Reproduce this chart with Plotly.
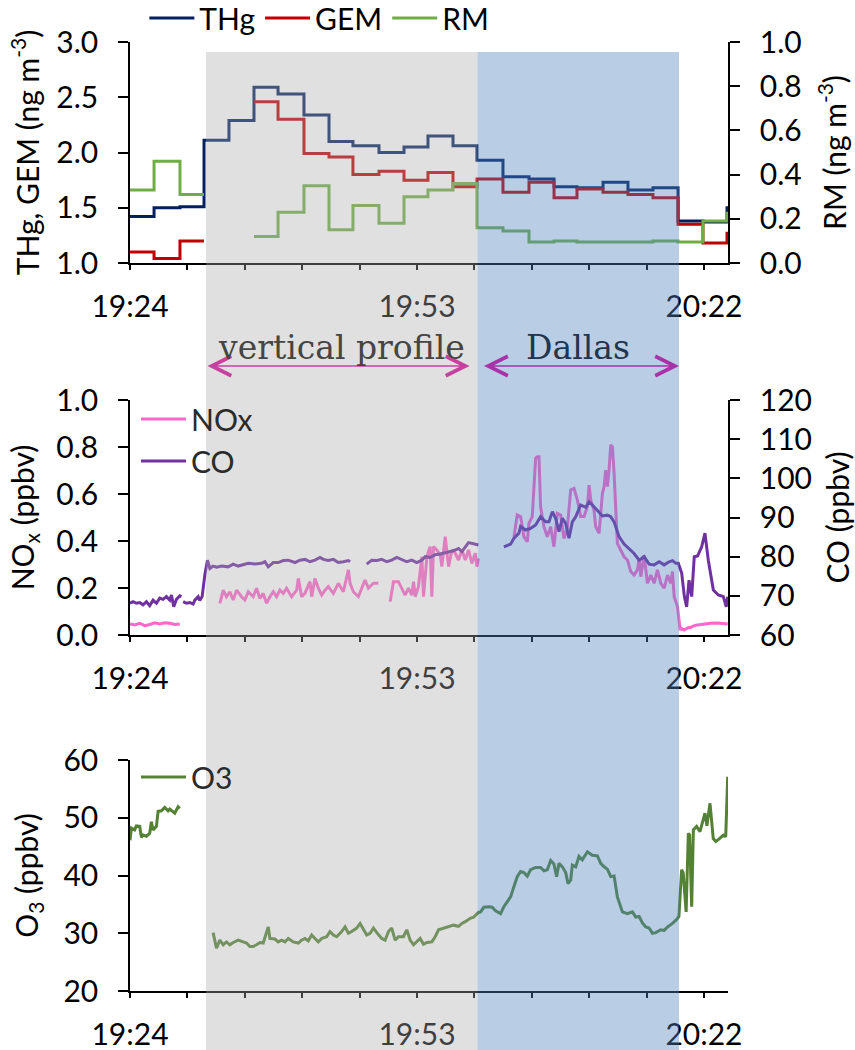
import plotly.graph_objects as go

# ------------------------------------------------------------------
# Time axis: minutes after 19:24
# ------------------------------------------------------------------
x_end = 60.43
tick_minutes = [0, 5.8, 11.6, 17.4, 23.2, 29.0, 34.8, 40.6, 46.4, 52.2, 58.0]
label_minutes = [0, 29.0, 58.0]
label_text = ["19:24", "19:53", "20:22"]

# flight legs
profile_start = 7.68
profile_end = 35.12
dallas_start = 35.12
dallas_end = 55.48

# ------------------------------------------------------------------
# Mercury: ~2.5-min sampling intervals (start of each interval)
# ------------------------------------------------------------------
hg_start = [0.0, 2.43, 5.05, 7.48, 10.0, 12.53, 14.96, 17.58, 20.11, 22.53,
            25.16, 27.69, 30.11, 32.64, 35.06, 37.69, 40.32, 42.85, 45.17,
            47.8, 50.32, 52.85, 55.38, 57.9, 60.33]
thg = [1.42, 1.50, 1.51, 2.11, 2.29, 2.59, 2.53, 2.34, 2.10, 2.06, 2.00, 2.05,
       2.15, 2.06, 1.93, 1.78, 1.76, 1.69, 1.68, 1.73, 1.66, 1.68, 1.38, 1.37,
       1.50]
gem = [1.10, 1.04, 1.20, None, None, 2.46, 2.30, 1.99, 1.96, 1.80, 1.83, 1.75,
       1.82, 1.69, 1.76, 1.64, 1.73, 1.59, 1.67, 1.64, 1.62, 1.59, 1.35, 1.18,
       1.27]
rm = [0.33, 0.46, 0.31, None, None, 0.12, 0.23, 0.35, 0.15, 0.26, 0.18, 0.30,
      0.33, 0.36, 0.16, 0.145, 0.095, 0.10, 0.095, 0.095, 0.095, 0.10, 0.095,
      0.19, 0.225]

# ------------------------------------------------------------------
# Fast trace gases: (minute, value); None marks a data gap
# ------------------------------------------------------------------
nox_ppbv = [
    (0.00, 0.047), (0.47, 0.043), (0.98, 0.050), (1.49, 0.040), (1.99, 0.045),
    (2.50, 0.052), (3.01, 0.047), (3.51, 0.052), (4.02, 0.050), (4.52, 0.045),
    (5.03, 0.047), (7.00, None),
    (9.08, 0.135), (9.42, 0.191), (9.75, 0.163), (10.09, 0.184), (10.43, 0.149),
    (10.77, 0.191), (11.27, 0.163), (11.61, 0.149), (11.95, 0.184), (12.45, 0.163),
    (12.79, 0.199), (13.13, 0.156), (13.46, 0.177), (13.80, 0.135), (14.14, 0.163),
    (14.48, 0.184), (14.81, 0.163), (15.15, 0.191), (15.49, 0.177), (15.83, 0.199),
    (16.33, 0.163), (16.84, 0.191), (17.01, 0.241), (17.34, 0.163), (17.68, 0.177),
    (18.19, 0.227), (18.36, 0.163), (18.69, 0.241), (19.03, 0.199), (19.37, 0.170),
    (19.71, 0.191), (20.04, 0.206), (20.55, 0.177), (21.05, 0.220), (21.56, 0.184),
    (22.07, 0.277), (22.24, 0.220), (22.57, 0.184), (23.08, 0.163), (23.42, 0.199),
    (23.75, 0.234), (24.09, 0.199), (24.60, 0.220), (25.10, 0.220), (25.70, None),
    (26.29, 0.142), (26.62, 0.227), (27.13, 0.227), (27.47, 0.199), (27.80, 0.170),
    (28.14, 0.199), (28.48, 0.170), (28.65, 0.227), (28.82, 0.163), (29.15, 0.206),
    (29.49, 0.333), (29.66, 0.163), (30.00, 0.333), (30.33, 0.376), (30.50, 0.163),
    (30.67, 0.376), (31.01, 0.362), (31.35, 0.340), (31.51, 0.291), (31.85, 0.418),
    (32.19, 0.291), (32.53, 0.362), (32.86, 0.348), (33.20, 0.319), (33.54, 0.362),
    (33.88, 0.319), (34.21, 0.362), (34.55, 0.305), (34.89, 0.348), (35.05, 0.291),
    (35.20, 0.326), (37.00, None),
    (38.80, 0.418), (39.13, 0.511), (39.47, 0.504), (39.81, 0.418), (40.15, 0.397),
    (40.31, 0.475), (40.65, 0.504), (40.99, 0.752), (41.16, 0.759), (41.33, 0.759),
    (41.49, 0.546), (41.83, 0.461), (42.17, 0.418), (42.51, 0.461), (42.84, 0.376),
    (43.18, 0.518), (43.52, 0.511), (43.86, 0.411), (44.19, 0.454), (44.53, 0.617),
    (44.87, 0.624), (45.21, 0.574), (45.54, 0.504), (45.88, 0.504), (46.22, 0.546),
    (46.39, 0.638), (46.56, 0.574), (46.89, 0.532), (47.06, 0.461), (47.40, 0.433),
    (47.74, 0.603), (47.91, 0.631), (48.07, 0.702), (48.24, 0.631), (48.41, 0.702),
    (48.58, 0.809), (48.75, 0.801), (48.92, 0.688), (49.25, 0.390), (49.59, 0.362),
    (49.93, 0.333), (50.27, 0.319), (50.60, 0.270), (50.94, 0.255), (51.28, 0.277),
    (51.45, 0.326), (51.62, 0.248), (51.95, 0.340), (52.29, 0.220), (52.63, 0.255),
    (52.97, 0.220), (53.30, 0.277), (53.64, 0.220), (53.98, 0.199), (54.32, 0.255),
    (54.65, 0.220), (54.82, 0.270), (54.99, 0.163), (55.33, 0.120), (55.60, 0.021),
    (55.73, 0.028), (56.00, 0.021), (56.34, 0.030), (56.68, 0.033), (57.01, 0.040),
    (57.35, 0.043), (58.03, 0.047), (58.70, 0.050), (59.38, 0.051), (60.05, 0.047),
    (60.40, 0.047),
]

co_ppbv = [
    (0.00, 68.1), (0.31, 68.5), (0.64, 68.1), (0.98, 68.3), (1.32, 67.7),
    (1.66, 68.5), (1.99, 67.5), (2.33, 68.9), (2.67, 68.1), (3.01, 69.4),
    (3.34, 69.1), (3.68, 69.8), (4.02, 68.9), (4.19, 70.2), (4.42, 67.2),
    (4.69, 69.1), (5.03, 70.0), (5.20, 69.8), (5.28, None),
    (5.37, 68.5), (5.70, 68.1), (6.04, 68.3), (6.38, 67.9), (6.55, 68.9),
    (6.89, 69.8), (7.05, 68.8), (7.29, 69.8), (7.56, 75.3), (7.83, 79.1),
    (8.07, 77.0), (8.40, 77.6), (8.74, 77.3), (9.25, 77.6), (9.92, 77.4),
    (10.43, 78.1), (10.93, 77.6), (11.44, 78.0), (11.95, 78.3), (12.62, 78.1),
    (13.30, 78.3), (13.63, 78.7), (13.97, 77.4), (14.48, 78.5), (14.98, 78.5),
    (15.49, 79.0), (15.99, 79.1), (16.67, 78.5), (17.17, 79.1), (17.68, 79.3),
    (18.19, 78.7), (18.69, 79.1), (19.20, 79.8), (19.54, 79.3), (20.04, 79.0),
    (20.55, 79.3), (21.05, 78.5), (21.56, 78.7), (22.07, 79.0), (22.24, 78.7),
    (23.00, None),
    (23.92, 78.1), (24.43, 79.1), (24.94, 79.0), (25.44, 79.3), (25.95, 78.7),
    (26.45, 79.1), (26.96, 79.8), (27.47, 79.3), (27.97, 78.7), (28.48, 79.1),
    (28.98, 78.5), (29.49, 79.1), (29.83, 80.0), (30.33, 79.8), (30.84, 80.5),
    (31.35, 80.7), (31.85, 80.9), (32.36, 81.3), (32.86, 81.7), (33.20, 82.1),
    (33.54, 81.3), (33.88, 82.6), (34.21, 83.6), (34.72, 83.3), (35.20, 83.0),
    (36.50, None),
    (37.78, 82.5), (38.46, 83.2), (38.80, 84.7), (39.30, 86.0), (39.47, 87.7),
    (39.98, 86.8), (40.48, 87.2), (40.99, 88.1), (41.49, 90.2), (42.00, 88.9),
    (42.34, 88.9), (42.68, 91.5), (43.01, 89.8), (43.35, 86.4), (43.69, 89.8),
    (44.03, 88.5), (44.36, 84.7), (44.70, 88.9), (45.04, 90.2), (45.54, 93.2),
    (46.05, 92.6), (46.39, 94.0), (46.72, 93.2), (47.23, 91.9), (47.74, 90.4),
    (48.24, 90.6), (48.58, 90.2), (48.92, 88.9), (49.42, 85.1), (49.93, 83.2),
    (50.44, 82.1), (50.94, 80.8), (51.45, 79.1), (51.95, 80.0), (52.46, 78.1),
    (52.97, 77.9), (53.47, 78.7), (53.98, 77.9), (54.48, 78.7), (54.82, 79.0),
    (55.16, 78.3), (55.41, 78.3), (55.75, 75.8), (56.02, 69.8), (56.25, 67.2),
    (56.49, 74.0), (56.76, 69.8), (57.02, 80.0), (57.36, 80.2), (57.77, 82.5),
    (58.10, 86.0), (58.44, 79.1), (58.95, 71.5), (59.45, 70.2), (59.96, 69.8),
    (60.25, 67.2), (60.40, 69.8),
]

o3_ppbv = [
    (0.00, 46.1), (0.14, 48.2), (0.47, 47.9), (0.64, 48.6), (0.98, 48.5),
    (1.15, 46.6), (1.32, 47.0), (1.66, 46.8), (1.99, 47.3), (2.16, 49.3),
    (2.33, 47.9), (2.67, 48.5), (2.84, 51.1), (3.17, 51.2), (3.51, 51.8),
    (3.85, 51.2), (4.02, 51.5), (4.35, 51.1), (4.52, 50.8), (4.86, 51.9),
    (5.03, 51.6), (6.50, None),
    (8.40, 30.1), (8.74, 27.4), (9.08, 28.8), (9.42, 28.0), (9.75, 28.5),
    (10.09, 28.0), (10.43, 28.4), (10.93, 28.8), (11.44, 28.5), (11.78, 28.3),
    (12.11, 27.7), (12.45, 27.7), (12.79, 28.0), (13.13, 28.4), (13.46, 28.3),
    (13.63, 29.4), (13.97, 31.1), (14.14, 29.1), (14.64, 29.0), (14.98, 28.5),
    (15.32, 28.8), (15.66, 28.5), (15.99, 29.1), (16.50, 28.5), (17.01, 28.3),
    (17.34, 28.8), (17.68, 29.1), (18.02, 28.7), (18.36, 29.7), (18.69, 29.1),
    (19.03, 28.5), (19.37, 29.1), (19.87, 29.4), (20.21, 30.3), (20.55, 29.7),
    (20.89, 29.4), (21.39, 30.3), (21.73, 31.1), (22.07, 30.0), (22.40, 30.3),
    (22.91, 30.9), (23.25, 31.7), (23.59, 30.6), (23.92, 29.7), (24.26, 30.0),
    (24.60, 30.9), (24.94, 30.1), (25.44, 29.1), (25.78, 28.8), (26.12, 30.3),
    (26.45, 30.9), (26.79, 28.8), (27.13, 29.4), (27.63, 29.4), (27.97, 30.6),
    (28.31, 28.8), (28.65, 28.0), (28.98, 28.5), (29.32, 29.1), (29.66, 28.1),
    (30.00, 28.4), (30.50, 28.5), (30.84, 29.4), (31.18, 30.6), (31.68, 30.9),
    (32.19, 31.1), (32.69, 31.4), (33.20, 31.2), (33.54, 31.7), (33.88, 32.0),
    (34.38, 32.6), (34.72, 32.8), (35.22, 33.6), (35.42, 33.7), (35.76, 34.5),
    (36.27, 34.6), (36.60, 34.5), (36.94, 33.9), (37.45, 33.4), (37.78, 34.6),
    (38.12, 35.5), (38.46, 36.3), (38.80, 38.1), (39.13, 39.8), (39.47, 40.7),
    (39.81, 40.5), (40.15, 39.9), (40.48, 41.0), (40.99, 41.4), (41.49, 41.4),
    (41.83, 40.8), (42.17, 41.0), (42.51, 42.6), (42.84, 42.0), (43.11, 39.8),
    (43.35, 42.1), (43.69, 41.5), (44.03, 40.5), (44.26, 38.6), (44.53, 39.2),
    (44.70, 41.8), (45.04, 41.5), (45.37, 43.3), (45.71, 42.7), (46.22, 44.1),
    (46.72, 43.5), (47.23, 43.4), (47.57, 42.1), (47.91, 41.5), (48.24, 41.1),
    (48.58, 39.8), (48.92, 39.9), (49.25, 36.3), (49.76, 33.7), (50.27, 33.4),
    (50.77, 33.7), (51.11, 32.8), (51.45, 32.9), (51.78, 31.8), (52.12, 31.1),
    (52.46, 30.9), (52.80, 30.0), (53.13, 30.1), (53.64, 30.6), (53.98, 30.5),
    (54.32, 31.1), (54.82, 31.7), (55.20, 32.3), (55.47, 32.9), (55.74, 41.0),
    (55.90, 40.5), (56.20, 33.7), (56.42, 47.3), (56.55, 47.0), (56.76, 34.6),
    (56.93, 47.9), (57.26, 48.5), (57.60, 47.6), (58.10, 50.8), (58.30, 48.6),
    (58.61, 52.5), (58.94, 46.4), (59.20, 45.9), (59.45, 46.2), (59.96, 47.0),
    (60.20, 46.7), (60.40, 57.1),
]


def steps(starts, end, values):
    """Expand interval-averaged samples into a stepped line, breaking on gaps."""
    xs, ys = [], []
    bounds = starts[1:] + [end]
    for t0, t1, v in zip(starts, bounds, values):
        if v is None:
            xs.append(t0)
            ys.append(None)
        else:
            xs += [t0, t1]
            ys += [v, v]
    return xs, ys


def unzip(pairs):
    return [p[0] for p in pairs], [p[1] for p in pairs]


# ------------------------------------------------------------------
# Page geometry
# ------------------------------------------------------------------
W, H = 855, 1050
M_L, M_R, M_T, M_B = 130, 127, 42, 59
PLOT_H = H - M_T - M_B


def ypaper(px):
    return (H - M_B - px) / PLOT_H


FONT = "Lato"
TICK_FONT = dict(family=FONT, size=30, color="black")
TITLE_FONT = dict(family=FONT, size=30, color="black")

C_THG = "#002060"
C_GEM = "#C00000"
C_RM = "#70AD47"
C_NOX = "#FF66CC"
C_CO = "#7030A0"
C_O3 = "#548235"

fig = go.Figure()

x_thg, y_thg = steps(hg_start, x_end, thg)
x_gem, y_gem = steps(hg_start, x_end, gem)
x_rm, y_rm = steps(hg_start, x_end, rm)

fig.add_trace(go.Scatter(x=x_thg, y=y_thg, mode="lines", name="THg",
                         line=dict(color=C_THG, width=3),
                         xaxis="x", yaxis="y", legend="legend"))
fig.add_trace(go.Scatter(x=x_gem, y=y_gem, mode="lines", name="GEM",
                         line=dict(color=C_GEM, width=3),
                         xaxis="x", yaxis="y", legend="legend"))
fig.add_trace(go.Scatter(x=x_rm, y=y_rm, mode="lines", name="RM",
                         line=dict(color=C_RM, width=3),
                         xaxis="x", yaxis="y2", legend="legend"))

x_nox, y_nox = unzip(nox_ppbv)
x_co, y_co = unzip(co_ppbv)
x_o3, y_o3 = unzip(o3_ppbv)

fig.add_trace(go.Scatter(x=x_nox, y=y_nox, mode="lines", name="NOx",
                         line=dict(color=C_NOX, width=3),
                         xaxis="x2", yaxis="y3", legend="legend2",
                         legendgroup="nox"))
fig.add_trace(go.Scatter(x=x_co, y=y_co, mode="lines", name="CO",
                         line=dict(color=C_CO, width=3),
                         xaxis="x2", yaxis="y4", legend="legend2",
                         legendgroup="co"))
fig.add_trace(go.Scatter(x=x_o3, y=y_o3, mode="lines", name="O3",
                         line=dict(color=C_O3, width=3),
                         xaxis="x3", yaxis="y5", legend="legend3"))

# ------------------------------------------------------------------
# Axes
# ------------------------------------------------------------------
axis_base = dict(showline=True, linecolor="black", linewidth=1.5,
                 ticks="outside", tickcolor="black", tickwidth=1.5,
                 showgrid=False, zeroline=False, tickfont=TICK_FONT,
                 automargin=False)

x_base = dict(axis_base, range=[0, x_end], tickmode="array",
              tickvals=label_minutes, ticktext=label_text, ticklen=5,
              ticklabelstandoff=11, domain=[0, 1],
              minor=dict(tickmode="array", tickvals=tick_minutes,
                         ticks="outside", ticklen=5, tickwidth=1.5,
                         tickcolor="black", showgrid=False))
# companion axes that draw the upward half of the crossing tick marks
x_inner = dict(range=[0, x_end], tickmode="array", tickvals=tick_minutes,
               ticks="inside", ticklen=7, tickwidth=1.5, tickcolor="black",
               showticklabels=False, showline=False, showgrid=False,
               zeroline=False, domain=[0, 1])

dom1 = [ypaper(263), ypaper(42)]
dom2 = [ypaper(635), ypaper(400)]
dom3 = [ypaper(991), ypaper(760)]

y_left = dict(axis_base, ticklen=10, ticklabelstandoff=14)
y_right = dict(axis_base, ticklen=10, ticklabelstandoff=14, side="right")

fig.update_layout(
    xaxis=dict(x_base, anchor="y"),
    xaxis2=dict(x_base, anchor="y3"),
    xaxis3=dict(x_base, anchor="y5"),
    xaxis4=dict(x_inner, overlaying="x", anchor="y"),
    xaxis5=dict(x_inner, overlaying="x2", anchor="y3"),
    xaxis6=dict(x_inner, overlaying="x3", anchor="y5"),
    yaxis=dict(y_left, domain=dom1, anchor="x", range=[1, 3],
               tickvals=[1, 1.5, 2, 2.5, 3], tickformat=".1f",
               title=dict(text="THg, GEM (ng m<sup>-3</sup>)",
                          font=TITLE_FONT, standoff=8)),
    yaxis2=dict(y_right, overlaying="y", anchor="x", range=[0, 1],
                tickvals=[0, 0.2, 0.4, 0.6, 0.8, 1.0], tickformat=".1f",
                title=dict(text="RM (ng m<sup>-3</sup>)",
                           font=TITLE_FONT, standoff=24)),
    yaxis3=dict(y_left, domain=dom2, anchor="x2", range=[0, 1],
                tickvals=[0, 0.2, 0.4, 0.6, 0.8, 1.0], tickformat=".1f",
                title=dict(text="NO<sub>x</sub> (ppbv)",
                           font=TITLE_FONT, standoff=13)),
    yaxis4=dict(y_right, overlaying="y3", anchor="x2", range=[60, 120],
                tickvals=[60, 70, 80, 90, 100, 110, 120],
                title=dict(text="CO (ppbv)", font=TITLE_FONT, standoff=26)),
    yaxis5=dict(y_left, domain=dom3, anchor="x3", range=[20, 60],
                tickvals=[20, 30, 40, 50, 60],
                title=dict(text="O<sub>3</sub> (ppbv)",
                           font=TITLE_FONT, standoff=16)),
)

# ------------------------------------------------------------------
# Legends
# ------------------------------------------------------------------
legend_font = dict(family=FONT, size=30, color="black")
fig.update_layout(
    legend=dict(orientation="h", x=0.024, y=ypaper(18), xanchor="left",
                yanchor="middle", font=legend_font,
                bgcolor="rgba(0,0,0,0)", itemwidth=45),
    legend2=dict(orientation="v", x=0.01, y=ypaper(393), xanchor="left",
                 yanchor="top", font=dict(legend_font, color="#2a2a2a"),
                 bgcolor="rgba(0,0,0,0)", tracegroupgap=0, itemwidth=45),
    legend3=dict(orientation="v", x=0.01, y=ypaper(751), xanchor="left",
                 yanchor="top", font=dict(legend_font, color="#2a2a2a"),
                 bgcolor="rgba(0,0,0,0)", itemwidth=45),
)

# ------------------------------------------------------------------
# Flight-leg shading (translucent, drawn over the data)
# ------------------------------------------------------------------
shade_top = ypaper(52)
shade_bottom = ypaper(H)
fig.add_shape(type="rect", xref="x", yref="paper",
              x0=profile_start, x1=profile_end, y0=shade_bottom, y1=shade_top,
              fillcolor="rgb(170,170,170)", opacity=0.37, line_width=0,
              layer="above")
fig.add_shape(type="rect", xref="x", yref="paper",
              x0=dallas_start, x1=dallas_end, y0=shade_bottom, y1=shade_top,
              fillcolor="rgb(79,129,189)", opacity=0.40, line_width=0,
              layer="above")

arrow_y = ypaper(366)
label_y = ypaper(348)
for x0, x1, color, s0, s1 in [
    (profile_start, profile_end, "#C8409F", 0, 8),
    (dallas_start, dallas_end, "#A932A8", 5, 0),
]:
    fig.add_annotation(xref="x", yref="paper", x=x1, y=arrow_y,
                       axref="x", ayref="pixel", ax=x0, ay=0, text="",
                       showarrow=True, arrowside="end+start",
                       arrowhead=5, startarrowhead=5, arrowwidth=1.6,
                       arrowsize=2.4, startarrowsize=2.4, arrowcolor=color,
                       standoff=s1, startstandoff=s0)

fig.add_annotation(xref="x", yref="paper",
                   x=(profile_start + profile_end) / 2, y=label_y,
                   text="vertical profile", showarrow=False,
                   font=dict(family="DejaVu Serif", size=33, color="#454545"),
                   yanchor="middle")
fig.add_annotation(xref="x", yref="paper",
                   x=(dallas_start + dallas_end) / 2, y=label_y,
                   text="Dallas", showarrow=False,
                   font=dict(family="DejaVu Serif", size=33, color="#22354F"),
                   yanchor="middle")

fig.update_layout(
    width=W, height=H,
    margin=dict(l=M_L, r=M_R, t=M_T, b=M_B, pad=0, autoexpand=False),
    template="none",
    plot_bgcolor="white", paper_bgcolor="white",
    showlegend=True,
    font=dict(family=FONT, color="black"),
)

fig.write_html("out.html")
